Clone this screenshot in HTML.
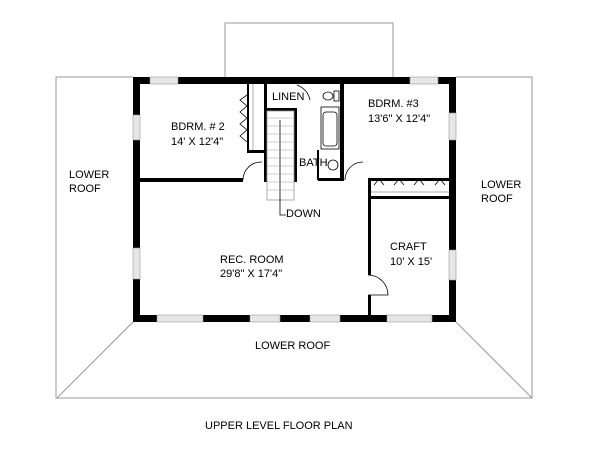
<!DOCTYPE html>
<html><head><style>body{margin:0;background:#fff}svg{display:block}text{font-family:"Liberation Sans",Arial,sans-serif;font-size:11px;fill:#000}</style></head>
<body>
<svg width="600" height="470" viewBox="0 0 600 470" xmlns="http://www.w3.org/2000/svg">
<g fill="none" stroke="#999" stroke-width="1">
<polyline points="133,77 56,77 56,398 532,398 532,77 456,77"/>
<polyline points="225,77 225,23 393,23 393,77"/>
<line x1="133" y1="322" x2="57" y2="398"/>
<line x1="456" y1="322" x2="532" y2="398"/>
</g>
<g fill="#000">
<rect x="133" y="77" width="323" height="7"/>
<rect x="133" y="315" width="323" height="7"/>
<rect x="133" y="77" width="7" height="245"/>
<rect x="449" y="77" width="7" height="245"/>
</g>
<g fill="#e6e6e6" stroke="#999" stroke-width="0.6">
<rect x="150" y="77" width="28" height="7"/><rect x="410" y="77" width="28" height="7"/>
<rect x="133" y="115" width="7" height="25"/><rect x="133" y="248" width="7" height="31"/>
<rect x="449" y="113" width="7" height="27"/><rect x="449" y="250" width="7" height="30"/>
<rect x="157" y="315" width="46" height="7"/><rect x="250" y="315" width="30" height="7"/>
<rect x="310" y="315" width="30" height="7"/><rect x="387" y="315" width="45" height="7"/>
</g>
<g fill="#000">
<rect x="140" y="178" width="103" height="4"/>
<rect x="247" y="84" width="2" height="68"/>
<rect x="247" y="150" width="18" height="3"/>
<rect x="264" y="84" width="3" height="98"/>
<rect x="294" y="110" width="3" height="72"/>
<rect x="264" y="108" width="33" height="3"/>
<rect x="340" y="84" width="4" height="97"/>
<rect x="318" y="178" width="26" height="3"/>
<rect x="317" y="150" width="2" height="30"/>
<rect x="368" y="178" width="84" height="3"/>
<rect x="368" y="178" width="3" height="97"/>
<rect x="368" y="295" width="3" height="20"/>
<rect x="368" y="196" width="84" height="3"/>
</g>
<g fill="none" stroke="#000" stroke-width="0.8">
<path d="M243,180 A18,18 0 0 1 262,162"/>
<path d="M345,180 A18,18 0 0 1 363,162"/>
<path d="M368,275 A20,20 0 0 1 388,295 L368,295"/>
<path d="M297,85 A20,20 0 0 1 310,100"/>
<polyline points="247,95 240,100 247,106 240,112 247,118 240,124 247,130 240,136 247,142"/>
<line x1="253" y1="84" x2="253" y2="150" stroke="#999"/>
<path d="M374,185 L379,179 L384,185 M394,185 L399,179 L404,185 M414,185 L419,179 L424,185 M435,185 L440,179 L445,185"/>
<line x1="371" y1="192" x2="449" y2="192" stroke="#999"/>
<rect x="321" y="107" width="18" height="42"/>
<rect x="323" y="112" width="14" height="34" rx="3"/>
<ellipse cx="328" cy="96" rx="5" ry="4"/><rect x="334" y="91" width="5" height="10"/>
<circle cx="333" cy="165" r="5"/>
<rect x="267" y="111" width="27" height="89" stroke="#999"/>
<line x1="280" y1="120" x2="280" y2="205"/>
<polyline points="280,205 280,215 286,215"/>
</g>
<g stroke="#999" stroke-width="0.6">
<line x1="267" y1="118" x2="294" y2="118"/><line x1="267" y1="126" x2="294" y2="126"/>
<line x1="267" y1="134" x2="294" y2="134"/><line x1="267" y1="142" x2="294" y2="142"/>
<line x1="267" y1="150" x2="294" y2="150"/><line x1="267" y1="158" x2="294" y2="158"/>
<line x1="267" y1="166" x2="294" y2="166"/><line x1="267" y1="174" x2="294" y2="174"/>
<line x1="267" y1="182" x2="294" y2="182"/><line x1="267" y1="190" x2="294" y2="190"/>
</g>
<text x="171" y="130">BDRM. # 2</text>
<text x="171" y="145">14' X 12'4"</text>
<text x="272" y="100">LINEN</text>
<text x="368" y="107">BDRM. #3</text>
<text x="368" y="122">13'6" X 12'4"</text>
<text x="299" y="166">BATH</text>
<text x="286" y="217">DOWN</text>
<text x="220" y="263">REC. ROOM</text>
<text x="220" y="277">29'8" X 17'4"</text>
<text x="390" y="250">CRAFT</text>
<text x="390" y="265">10' X 15'</text>
<text x="69" y="178">LOWER</text>
<text x="69" y="192">ROOF</text>
<text x="481" y="188">LOWER</text>
<text x="481" y="202">ROOF</text>
<text x="255" y="349">LOWER ROOF</text>
<text x="205" y="429">UPPER LEVEL FLOOR PLAN</text>
</svg>
</body></html>
